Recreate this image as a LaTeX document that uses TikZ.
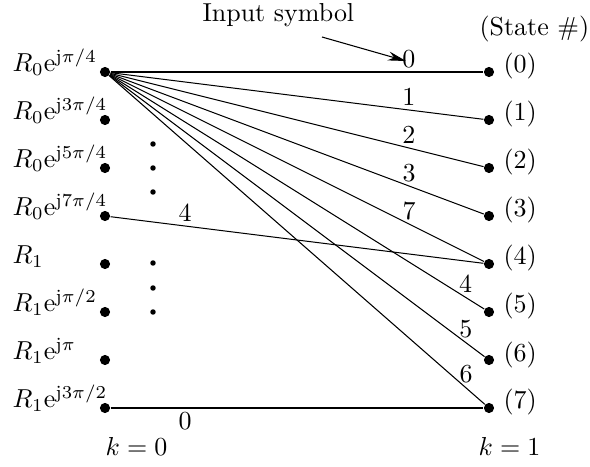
\documentclass[tikz,border=0pt]{standalone}
\usetikzlibrary{arrows.meta}
\begin{document}
\begin{tikzpicture}[
	x=0.385pt, y=-0.385pt,
	state/.style={circle, fill, inner sep=0pt, minimum size=3.9pt},
	vdot/.style={circle, fill, inner sep=0pt, minimum size=2.1pt},
	txt/.style={anchor=base west, inner sep=0pt},
	edge/.style={-},
	lbl/.style={inner sep=1.5pt},
	]
	\useasboundingbox (0,0) rectangle (590,467);
	
	% states at k = 0 and k = 1
	\foreach \i/\txt in {0/{R_0\mathrm{e}^{\mathrm{j}\pi/4}}, 1/{R_0\mathrm{e}^{\mathrm{j}3\pi/4}},
		2/{R_0\mathrm{e}^{\mathrm{j}5\pi/4}}, 3/{R_0\mathrm{e}^{\mathrm{j}7\pi/4}}, 4/{R_1},
		5/{R_1\mathrm{e}^{\mathrm{j}\pi/2}}, 6/{R_1\mathrm{e}^{\mathrm{j}\pi}}, 7/{R_1\mathrm{e}^{\mathrm{j}3\pi/2}}} {
		\node[state] (l\i) at (105, 72+48*\i) {};
		\node[txt] (lname\i) at (12, 72+48*\i) {$\txt$};
		\node[state] (r\i) at (489, 72+48*\i) {};
		\node[txt] (rname\i) at (503, 73+48*\i) {(\i)};
	}
	
	% vertical dots
	\foreach \y [count=\n] in {144, 168, 192, 263, 288, 312}
		\node[vdot] (vd\n) at (153, \y) {};
	
	% transitions
	\foreach \j/\sym/\p in {0/0/0.8, 1/1/0.8, 2/2/0.8, 3/3/0.8, 4/7/0.8,
		5/4/0.95, 6/5/0.95, 7/6/0.95}
		\draw[edge] (l0) to node[lbl, pos=\p, above] {\sym} (r\j);
	\draw[edge] (l3) to node[lbl, pos=0.2, above] {4} (r4);
	\draw[edge] (l7) to node[lbl, pos=0.2, below] {0} (r7);
	
	% titles
	\node[txt] (insym) at (202, 22) {Input symbol};
	\node[txt] (statetitle) at (479, 36) {(State \#)};
	\node[txt] (k0) at (105, 456) {$k=0$};
	\node[txt] (k1) at (478, 456) {$k=1$};
	
	\coordinate (arrfrom) at (322, 37);
	\coordinate (arrtip) at (406, 61);
	\draw[-{Stealth[length=7pt, width=3.5pt]}] (arrfrom) -- (arrtip);
	
\end{tikzpicture}
\end{document}
